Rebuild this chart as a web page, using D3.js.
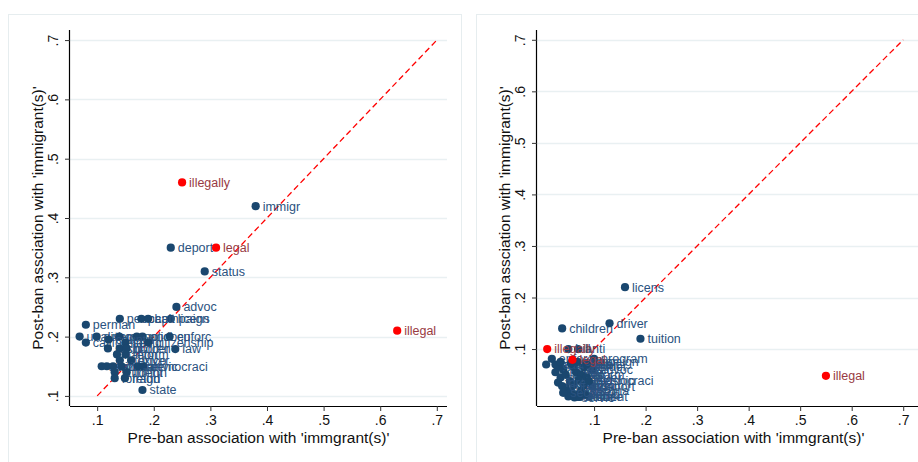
<!DOCTYPE html>
<html>
<head>
<meta charset="utf-8">
<script src="https://cdn.jsdelivr.net/npm/d3@7"></script>
<style>
  html, body { margin: 0; padding: 0; background: #ffffff; }
  svg { display: block; }
  text { font-family: "Liberation Sans", Arial, sans-serif; }
</style>
</head>
<body>
<svg id="chart" width="918" height="462"></svg>
<script>
// ---- Left panel: word associations, pre- vs post-ban ----
const leftWords = [
  "illegal","illegally","legal","immigr","deport","status","advoc","licens",
  "peopl","capit","campaign","perman","unauthor","divers","group","polici",
  "undocu","enforc","california","countri","secur","citizenship","law",
  "resid","children","border","nation","reform","mexico","driver",
  "alien","arizona","crimin","detain","servic","democraci","student",
  "tuition","foreign","fraud","state"
];
const leftPre = [
  0.63, 0.25, 0.31, 0.38, 0.23, 0.29, 0.24, 0.23,
  0.14, 0.178, 0.19, 0.08, 0.069, 0.099, 0.139, 0.17,
  0.18, 0.228, 0.08, 0.12, 0.15, 0.19, 0.238,
  0.119, 0.14, 0.152, 0.135, 0.15, 0.14, 0.16,
  0.108, 0.117, 0.128, 0.143, 0.172, 0.181, 0.131,
  0.152, 0.131, 0.149, 0.18
];
const leftPost = [
  0.21, 0.46, 0.35, 0.42, 0.35, 0.31, 0.25, 0.23,
  0.23, 0.23, 0.23, 0.22, 0.20, 0.20, 0.20, 0.20,
  0.20, 0.20, 0.19, 0.195, 0.19, 0.19, 0.179,
  0.18, 0.18, 0.18, 0.17, 0.17, 0.16, 0.16,
  0.15, 0.15, 0.15, 0.15, 0.15, 0.15, 0.14,
  0.14, 0.13, 0.13, 0.11
];

// ---- Right panel ----
const rightWords = [
  "illegal","illegally","legal","licens","children","driver","tuition",
  "anti","bill","enforc","perman","program",
  "advoc","citizenship","deport","state","immigr","status","undocu","peopl",
  "group","polici","law","reform","border","feder","resid","nation","mexico",
  "worker","alien","arizona","crimin","detain","servic","student","fraud",
  "foreign","countri","secur","democraci","california","unauthor","divers",
  "capit","campaign"
];
const rightPre = [
  0.55, 0.009, 0.058, 0.16, 0.038, 0.13, 0.19,
  0.069, 0.05, 0.018, 0.007, 0.10,
  0.097, 0.053, 0.097, 0.09, 0.03, 0.04, 0.025, 0.035,
  0.045, 0.06, 0.065, 0.075, 0.08, 0.085, 0.07, 0.06, 0.045,
  0.055, 0.065, 0.075, 0.08, 0.05, 0.062, 0.072, 0.082,
  0.03, 0.038, 0.04, 0.09, 0.025, 0.035, 0.055,
  0.085, 0.068
];
const rightPost = [
  0.048, 0.10, 0.079, 0.22, 0.14, 0.15, 0.12,
  0.10, 0.10, 0.081, 0.07, 0.081,
  0.06, 0.038, 0.028, 0.008, 0.065, 0.06, 0.055, 0.045,
  0.05, 0.065, 0.055, 0.05, 0.065, 0.045, 0.04, 0.03, 0.025,
  0.018, 0.012, 0.02, 0.03, 0.008, 0.006, 0.007, 0.012,
  0.035, 0.028, 0.015, 0.038, 0.07, 0.075, 0.072,
  0.07, 0.075
];

// words the style ban targeted, drawn in red
const banWords = ["illegal", "illegally", "legal"];

const tickValues = [0.1, 0.2, 0.3, 0.4, 0.5, 0.6, 0.7];
const tickLabels = [".1", ".2", ".3", ".4", ".5", ".6", ".7"];
const xTitle = "Pre-ban association with 'immgrant(s)'";
const yTitle = "Post-ban assciation with 'immigrant(s)'";

const NAVY = "#1a476f", NAVY_TXT = "#2a5280";
const RED = "#ff0000", RED_TXT = "#983a42";
const GRID = "#e9f0f2", FRAME = "#e6edef";

const svg = d3.select("#chart");

function panel(opts) {
  const { frame, plot, xDomain, yDomain, words, pre, post } = opts;
  const g = svg.append("g");

  g.append("rect")
    .attr("x", frame.x + 0.5).attr("y", frame.y + 0.5)
    .attr("width", frame.w).attr("height", frame.h)
    .attr("fill", "#ffffff").attr("stroke", FRAME).attr("stroke-width", 1);

  const x = d3.scaleLinear().domain(xDomain).range([plot.x0, plot.x1]);
  const y = d3.scaleLinear().domain(yDomain).range([plot.y1, plot.y0]);

  // horizontal grid
  g.append("g").selectAll("line").data(tickValues).join("line")
    .attr("x1", plot.x0).attr("x2", plot.x1)
    .attr("y1", d => Math.round(y(d)) + 0.5).attr("y2", d => Math.round(y(d)) + 0.5)
    .attr("stroke", GRID).attr("stroke-width", 1.3);

  const fmt = d => tickLabels[tickValues.indexOf(d)];

  // x axis
  const xAxis = g.append("g")
    .attr("transform", `translate(0,${plot.y1})`)
    .call(d3.axisBottom(x).tickValues(tickValues).tickFormat(fmt).tickSize(5).tickPadding(4));
  xAxis.select(".domain").attr("d", `M${plot.x0},0.5H${plot.x1}`).attr("stroke", "#000").attr("stroke-width", 1.2);
  xAxis.selectAll(".tick line").attr("stroke", "#333");
  xAxis.selectAll(".tick text").attr("font-size", 14).attr("fill", "#111")
    .attr("font-family", "Liberation Sans, Arial, sans-serif");

  // y axis with rotated labels
  const yAxis = g.append("g")
    .attr("transform", `translate(${plot.x0},0)`)
    .call(d3.axisLeft(y).tickValues(tickValues).tickFormat(fmt).tickSize(5).tickPadding(4));
  yAxis.select(".domain").attr("d", `M-0.5,${plot.y0}V${plot.y1}`).attr("stroke", "#000").attr("stroke-width", 1.2);
  yAxis.selectAll(".tick line").attr("stroke", "#333");
  yAxis.selectAll(".tick text")
    .attr("font-size", 14).attr("fill", "#111")
    .attr("font-family", "Liberation Sans, Arial, sans-serif")
    .attr("x", null).attr("dy", null)
    .attr("text-anchor", "middle")
    .attr("transform", "translate(-12,0) rotate(-90)");

  // axis titles
  g.append("text")
    .attr("x", (plot.x0 + plot.x1) / 2).attr("y", plot.y1 + 37)
    .attr("text-anchor", "middle").attr("font-size", 15.5).attr("fill", "#111")
    .text(xTitle);
  g.append("text")
    .attr("transform", `translate(${plot.x0 - 27},${(plot.y0 + plot.y1) / 2}) rotate(-90)`)
    .attr("text-anchor", "middle").attr("font-size", 15.5).attr("fill", "#111")
    .text(yTitle);

  // 45-degree reference line
  g.append("line")
    .attr("x1", x(0.1)).attr("y1", y(0.1))
    .attr("x2", x(0.7)).attr("y2", y(0.7))
    .attr("stroke", RED).attr("stroke-width", 1.3)
    .attr("stroke-dasharray", "6,3.5");

  const pts = words.map((w, i) => ({ w, px: pre[i], py: post[i], ban: banWords.includes(w) }));
  const ordered = pts.filter(d => !d.ban).concat(pts.filter(d => d.ban));

  const marks = g.append("g");
  ordered.forEach(d => {
    marks.append("circle")
      .attr("cx", x(d.px)).attr("cy", y(d.py)).attr("r", 4.1)
      .attr("fill", d.ban ? RED : NAVY);
    marks.append("text")
      .attr("x", x(d.px) + 7).attr("y", y(d.py))
      .attr("dy", "0.35em").attr("font-size", 12.5)
      .attr("fill", d.ban ? RED_TXT : NAVY_TXT)
      .text(d.w);
  });
}

panel({
  frame: { x: 8, y: 14, w: 453, h: 470 },
  plot: { x0: 70, x1: 447, y0: 30, y1: 406 },
  xDomain: [0.052, 0.718], yDomain: [0.083, 0.717],
  words: leftWords, pre: leftPre, post: leftPost
});

panel({
  frame: { x: 476, y: 14, w: 470, h: 470 },
  plot: { x0: 537, x1: 930, y0: 30, y1: 406 },
  xDomain: [-0.0108, 0.752], yDomain: [-0.0105, 0.719],
  words: rightWords, pre: rightPre, post: rightPost
});
</script>
</body>
</html>
